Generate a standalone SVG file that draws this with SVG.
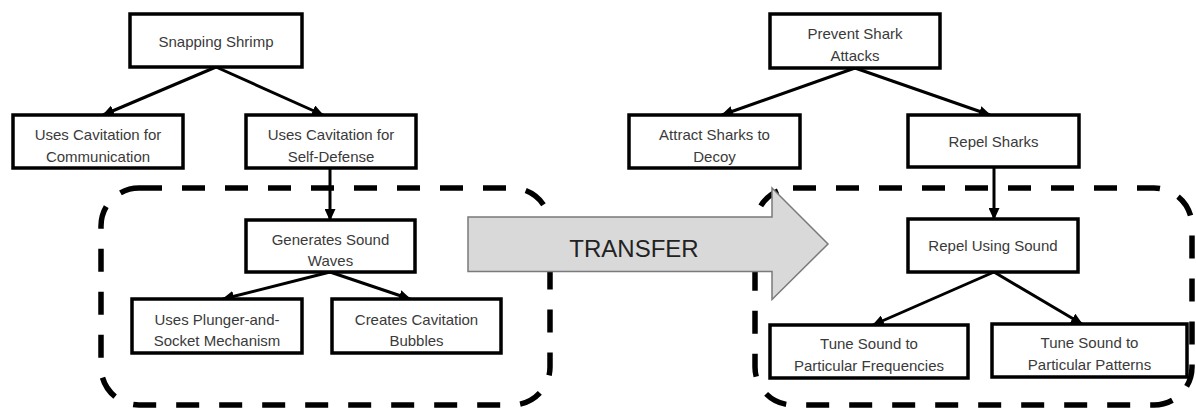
<svg xmlns="http://www.w3.org/2000/svg" width="1196" height="409" viewBox="0 0 1196 409">
<style>
.box{fill:#fff;stroke:#000;stroke-width:3.5}
.t{font-family:"Liberation Sans",Arial,sans-serif;font-size:15px;fill:#3a3a3a;text-anchor:middle}
.edge{stroke:#000;stroke-width:3;fill:none;marker-end:url(#ah)}
.dash{fill:none;stroke:#000;stroke-width:5.5;stroke-dasharray:23 20}
</style>
<defs>
<marker id="ah" markerUnits="userSpaceOnUse" markerWidth="12" markerHeight="11" refX="11" refY="5.5" orient="auto">
<path d="M0,0 L12,5.5 L0,11 z" fill="#000"/>
</marker>
</defs>
<rect width="1196" height="409" fill="#fff"/>
<g id="groups">
<rect class="dash" x="101" y="188" width="449" height="217" rx="38"/>
<rect class="dash" x="755" y="188" width="437" height="217" rx="38"/>
</g>
<g id="connectors">
<line class="edge" x1="216" y1="67" x2="103" y2="115"/>
<line class="edge" x1="216" y1="67" x2="323" y2="115"/>
<line class="edge" x1="330" y1="168" x2="330" y2="220"/>
<line class="edge" x1="330" y1="272" x2="223" y2="299"/>
<line class="edge" x1="330" y1="272" x2="410" y2="299"/>
<line class="edge" x1="855" y1="68" x2="722" y2="115"/>
<line class="edge" x1="855" y1="68" x2="990" y2="115"/>
<line class="edge" x1="994" y1="167" x2="994" y2="219"/>
<line class="edge" x1="994" y1="272" x2="873" y2="325"/>
<line class="edge" x1="994" y1="272" x2="1082" y2="324"/>
</g>
<g id="n-snapping">
<rect class="box" x="130" y="14" width="172" height="53"/>
<text class="t" x="216" y="46.5">Snapping Shrimp</text>
</g>
<g id="n-communication">
<rect class="box" x="13" y="115" width="170" height="53"/>
<text class="t" x="98" y="139.5">Uses Cavitation for<tspan x="98" dy="22">Communication</tspan></text>
</g>
<g id="n-selfdefense">
<rect class="box" x="246" y="115" width="170" height="53"/>
<text class="t" x="331" y="139.5">Uses Cavitation for<tspan x="331" dy="22">Self-Defense</tspan></text>
</g>
<g id="n-generates">
<rect class="box" x="246" y="220" width="169" height="52"/>
<text class="t" x="330.5" y="244.5">Generates Sound<tspan x="330.5" dy="21.5">Waves</tspan></text>
</g>
<g id="n-plunger">
<rect class="box" x="132" y="299" width="170" height="54"/>
<text class="t" x="217" y="324.5">Uses Plunger-and-<tspan x="217" dy="21.5">Socket Mechanism</tspan></text>
</g>
<g id="n-bubbles">
<rect class="box" x="332" y="299" width="169" height="54"/>
<text class="t" x="416.5" y="324.5">Creates Cavitation<tspan x="416.5" dy="21.5">Bubbles</tspan></text>
</g>
<g id="n-prevent">
<rect class="box" x="770" y="14" width="170" height="54"/>
<text class="t" x="855" y="39">Prevent Shark<tspan x="855" dy="22">Attacks</tspan></text>
</g>
<g id="n-attract">
<rect class="box" x="629" y="115" width="171" height="53"/>
<text class="t" x="714.5" y="139.5">Attract Sharks to<tspan x="714.5" dy="22">Decoy</tspan></text>
</g>
<g id="n-repelsharks">
<rect class="box" x="908" y="115" width="171" height="52"/>
<text class="t" x="993.5" y="147">Repel Sharks</text>
</g>
<g id="n-repelsound">
<rect class="box" x="908" y="219" width="170" height="53"/>
<text class="t" x="993" y="251">Repel Using Sound</text>
</g>
<g id="n-frequencies">
<rect class="box" x="770" y="325" width="198" height="53"/>
<text class="t" x="869" y="348.5">Tune Sound to<tspan x="869" dy="22">Particular Frequencies</tspan></text>
</g>
<g id="n-patterns">
<rect class="box" x="992" y="324" width="195" height="53"/>
<text class="t" x="1089.5" y="348">Tune Sound to<tspan x="1089.5" dy="22">Particular Patterns</tspan></text>
</g>
<g id="transfer">
<polygon points="468,217 772,217 772,188 828,244 772,299.5 772,271.5 468,271.5" fill="#d9d9d9" stroke="#7a7a7a" stroke-width="1.5"/>
<text x="634" y="257" font-family="'Liberation Sans',Arial,sans-serif" font-size="24" fill="#222" text-anchor="middle">TRANSFER</text>
</g>
</svg>
